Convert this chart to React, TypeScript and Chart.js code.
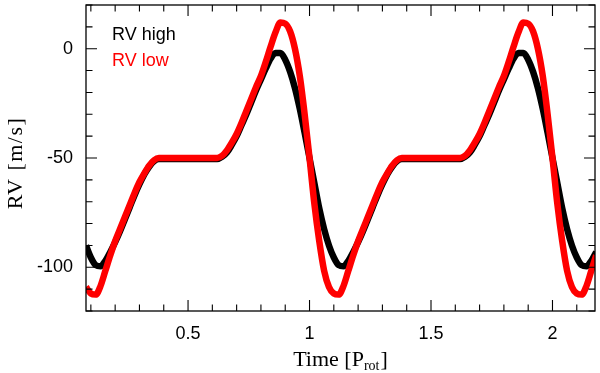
import React, { useEffect, useRef } from "react";
import { Chart, registerables } from "chart.js";

Chart.register(...registerables);

const times = [
  0.08, 0.1, 0.12, 0.14, 0.16, 0.18, 0.2, 0.22, 0.24, 0.26,
  0.28, 0.3, 0.32, 0.34, 0.36, 0.38, 0.4, 0.42, 0.44, 0.46,
  0.48, 0.5, 0.52, 0.54, 0.56, 0.58, 0.6, 0.62, 0.64, 0.66,
  0.68, 0.7, 0.72, 0.74, 0.76, 0.78, 0.8, 0.82, 0.84, 0.86,
  0.88, 0.9, 0.92, 0.94, 0.96, 0.98, 1.0, 1.02, 1.04, 1.06,
  1.08, 1.1, 1.12, 1.14, 1.16, 1.18, 1.2, 1.22, 1.24, 1.26,
  1.28, 1.3, 1.32, 1.34, 1.36, 1.38, 1.4, 1.42, 1.44, 1.46,
  1.48, 1.5, 1.52, 1.54, 1.56, 1.58, 1.6, 1.62, 1.64, 1.66,
  1.68, 1.7, 1.72, 1.74, 1.76, 1.78, 1.8, 1.82, 1.84, 1.86,
  1.88, 1.9, 1.92, 1.94, 1.96, 1.98, 2.0, 2.02, 2.04, 2.06,
  2.08, 2.1, 2.12, 2.14, 2.16, 2.18,
];

const rvHigh = [
  -90, -95.5, -99, -99.5, -97, -93, -88.5, -83.5, -78, -72.5,
  -67, -62, -57.5, -54, -51.5, -50.5, -50.5, -50.5, -50.5, -50.5,
  -50.5, -50.5, -50.5, -50.5, -50.5, -50.5, -50.5, -50.5, -49.5, -47.5,
  -44, -40, -35, -30, -24.5, -19, -14, -9, -4.5, -2,
  -2, -5, -10.5, -18, -27.5, -38.5, -50, -61.5, -73, -82.5,
  -90, -95.5, -99, -99.5, -97, -93, -88.5, -83.5, -78, -72.5,
  -67, -62, -57.5, -54, -51.5, -50.5, -50.5, -50.5, -50.5, -50.5,
  -50.5, -50.5, -50.5, -50.5, -50.5, -50.5, -50.5, -50.5, -49.5, -47.5,
  -44, -40, -35, -30, -24.5, -19, -14, -9, -4.5, -2,
  -2, -5, -10.5, -18, -27.5, -38.5, -50, -61.5, -73, -82.5,
  -90, -95.5, -99, -99.5, -97, -93,
];

const rvLow = [
  -109, -112, -112.5, -108.5, -101.5, -94.5, -88, -82.5, -77, -71.5,
  -66, -61, -57, -53.5, -51, -50, -50, -50, -50, -50,
  -50, -50, -50, -50, -50, -50, -50, -50, -49, -46.5,
  -43, -39, -34, -28.5, -23, -17.5, -12.5, -6, 1, 7.5,
  12, 11.5, 8, 0, -12.5, -30, -50, -71, -88, -101.5,
  -109, -112, -112.5, -108.5, -101.5, -94.5, -88, -82.5, -77, -71.5,
  -66, -61, -57, -53.5, -51, -50, -50, -50, -50, -50,
  -50, -50, -50, -50, -50, -50, -50, -50, -49, -46.5,
  -43, -39, -34, -28.5, -23, -17.5, -12.5, -6, 1, 7.5,
  12, 11.5, 8, 0, -12.5, -30, -50, -71, -88, -101.5,
  -109, -112, -112.5, -108.5, -101.5, -94.5,
];

const seriesLabels = ["RV high", "RV low"];
const seriesColors = ["#000000", "#ff0000"];
const xTickValues = [0.5, 1, 1.5, 2];
const yTickValues = [-100, -50, 0];
const xRange = [0.08, 2.175];
const yRange = [-120, 20];
const xTitleMain = "Time [P";
const xTitleSub = "rot";
const xTitleEnd = "]";
const yTitle = "RV [m/s]";

const SANS = "'Liberation Sans', Arial, sans-serif";
const SERIF = "'Liberation Serif', 'Times New Roman', serif";

const decorPlugin = {
  id: "decor",
  afterDatasetsDraw(chart: any) {
    const { ctx, chartArea: a, scales } = chart;
    const xs = scales.x;
    const ys = scales.y;
    ctx.save();
    ctx.strokeStyle = "#000";
    ctx.lineWidth = 1.3;
    ctx.strokeRect(a.left, a.top, a.right - a.left, a.bottom - a.top);
    ctx.lineWidth = 1.1;
    ctx.beginPath();
    for (let i = Math.ceil(xs.min * 10 - 1e-6); i <= Math.floor(xs.max * 10 + 1e-6); i++) {
      const px = xs.getPixelForValue(i / 10);
      const len = i % 5 === 0 ? 11 : 6.5;
      ctx.moveTo(px, a.bottom);
      ctx.lineTo(px, a.bottom - len);
      ctx.moveTo(px, a.top);
      ctx.lineTo(px, a.top + len);
    }
    for (let j = Math.ceil(ys.min / 10); j <= Math.floor(ys.max / 10); j++) {
      const py = ys.getPixelForValue(j * 10);
      const len = j % 5 === 0 ? 11 : 6.5;
      ctx.moveTo(a.left, py);
      ctx.lineTo(a.left + len, py);
      ctx.moveTo(a.right, py);
      ctx.lineTo(a.right - len, py);
    }
    ctx.stroke();
    ctx.restore();
  },
  afterDraw(chart: any) {
    const { ctx, chartArea: a } = chart;
    ctx.save();
    // legend text
    ctx.font = `18px ${SANS}`;
    ctx.textAlign = "left";
    ctx.textBaseline = "alphabetic";
    const ds = chart.data.datasets;
    ctx.fillStyle = ds[1].borderColor;
    ctx.fillText(ds[1].label, 112, 40);
    ctx.fillStyle = ds[0].borderColor;
    ctx.fillText(ds[0].label, 112, 66);

    // x title
    ctx.fillStyle = "#000";
    const mainFont = `22px ${SERIF}`;
    const subFont = `14px ${SERIF}`;
    ctx.font = mainFont;
    const w1 = ctx.measureText(xTitleMain).width;
    const w3 = ctx.measureText(xTitleEnd).width;
    ctx.font = subFont;
    const w2 = ctx.measureText(xTitleSub).width;
    const total = w1 + w2 + w3 + 1;
    const cx = (a.left + a.right) / 2;
    const x0 = cx - total / 2;
    const base = 366;
    ctx.font = mainFont;
    ctx.fillText(xTitleMain, x0, base);
    ctx.font = subFont;
    ctx.fillText(xTitleSub, x0 + w1, base + 4);
    ctx.font = mainFont;
    ctx.fillText(xTitleEnd, x0 + w1 + w2 + 1, base);

    // y title
    ctx.translate(22, 163);
    ctx.rotate(-Math.PI / 2);
    ctx.textAlign = "center";
    ctx.font = mainFont;
    (ctx as any).letterSpacing = "1.5px";
    ctx.fillText(yTitle, 0, 0);
    ctx.restore();
  },
};

export default function App() {
  const ref = useRef<HTMLCanvasElement | null>(null);
  useEffect(() => {
    document.body.style.margin = "0";
    const canvas = ref.current;
    if (!canvas) return;
    const chart = new Chart(canvas, {
      type: "line",
      data: {
        datasets: [
          {
            label: seriesLabels[1],
            data: times.map((t, i) => ({ x: t, y: rvLow[i] })),
            borderColor: seriesColors[1],
            backgroundColor: seriesColors[1],
            borderWidth: 6.5,
            pointRadius: 0,
            cubicInterpolationMode: "monotone",
            order: 1,
          },
          {
            label: seriesLabels[0],
            data: times.map((t, i) => ({ x: t, y: rvHigh[i] })),
            borderColor: seriesColors[0],
            backgroundColor: seriesColors[0],
            borderWidth: 6.5,
            pointRadius: 0,
            cubicInterpolationMode: "monotone",
            order: 2,
          },
        ],
      },
      options: {
        responsive: false,
        animation: false,
        layout: { padding: { top: 5, right: 5, left: 0, bottom: 0 } },
        plugins: { legend: { display: false }, tooltip: { enabled: false } },
        scales: {
          x: {
            type: "linear",
            min: xRange[0],
            max: xRange[1],
            grid: { display: false, drawTicks: false },
            border: { display: false },
            afterBuildTicks: (s: any) => {
              s.ticks = xTickValues.map((v) => ({ value: v }));
            },
            afterFit: (s: any) => {
              s.height = 62;
              s.paddingLeft = 0;
              s.paddingRight = 0;
            },
            ticks: {
              color: "#000",
              font: { family: SANS, size: 18 },
              padding: 12,
              maxRotation: 0,
              autoSkip: false,
              callback: (v: any) => String(v),
            },
          },
          y: {
            type: "linear",
            min: yRange[0],
            max: yRange[1],
            grid: { display: false, drawTicks: false },
            border: { display: false },
            afterBuildTicks: (s: any) => {
              s.ticks = yTickValues.map((v) => ({ value: v }));
            },
            afterFit: (s: any) => {
              s.width = 86;
              s.paddingTop = 0;
              s.paddingBottom = 0;
            },
            ticks: {
              color: "#000",
              font: { family: SANS, size: 18 },
              padding: 13,
              autoSkip: false,
              callback: (v: any) => String(v),
            },
          },
        },
      },
      plugins: [decorPlugin],
    });
    return () => chart.destroy();
  }, []);
  return (
    <div style={{ width: 600, height: 373 }}>
      <canvas ref={ref} width={600} height={373} />
    </div>
  );
}
